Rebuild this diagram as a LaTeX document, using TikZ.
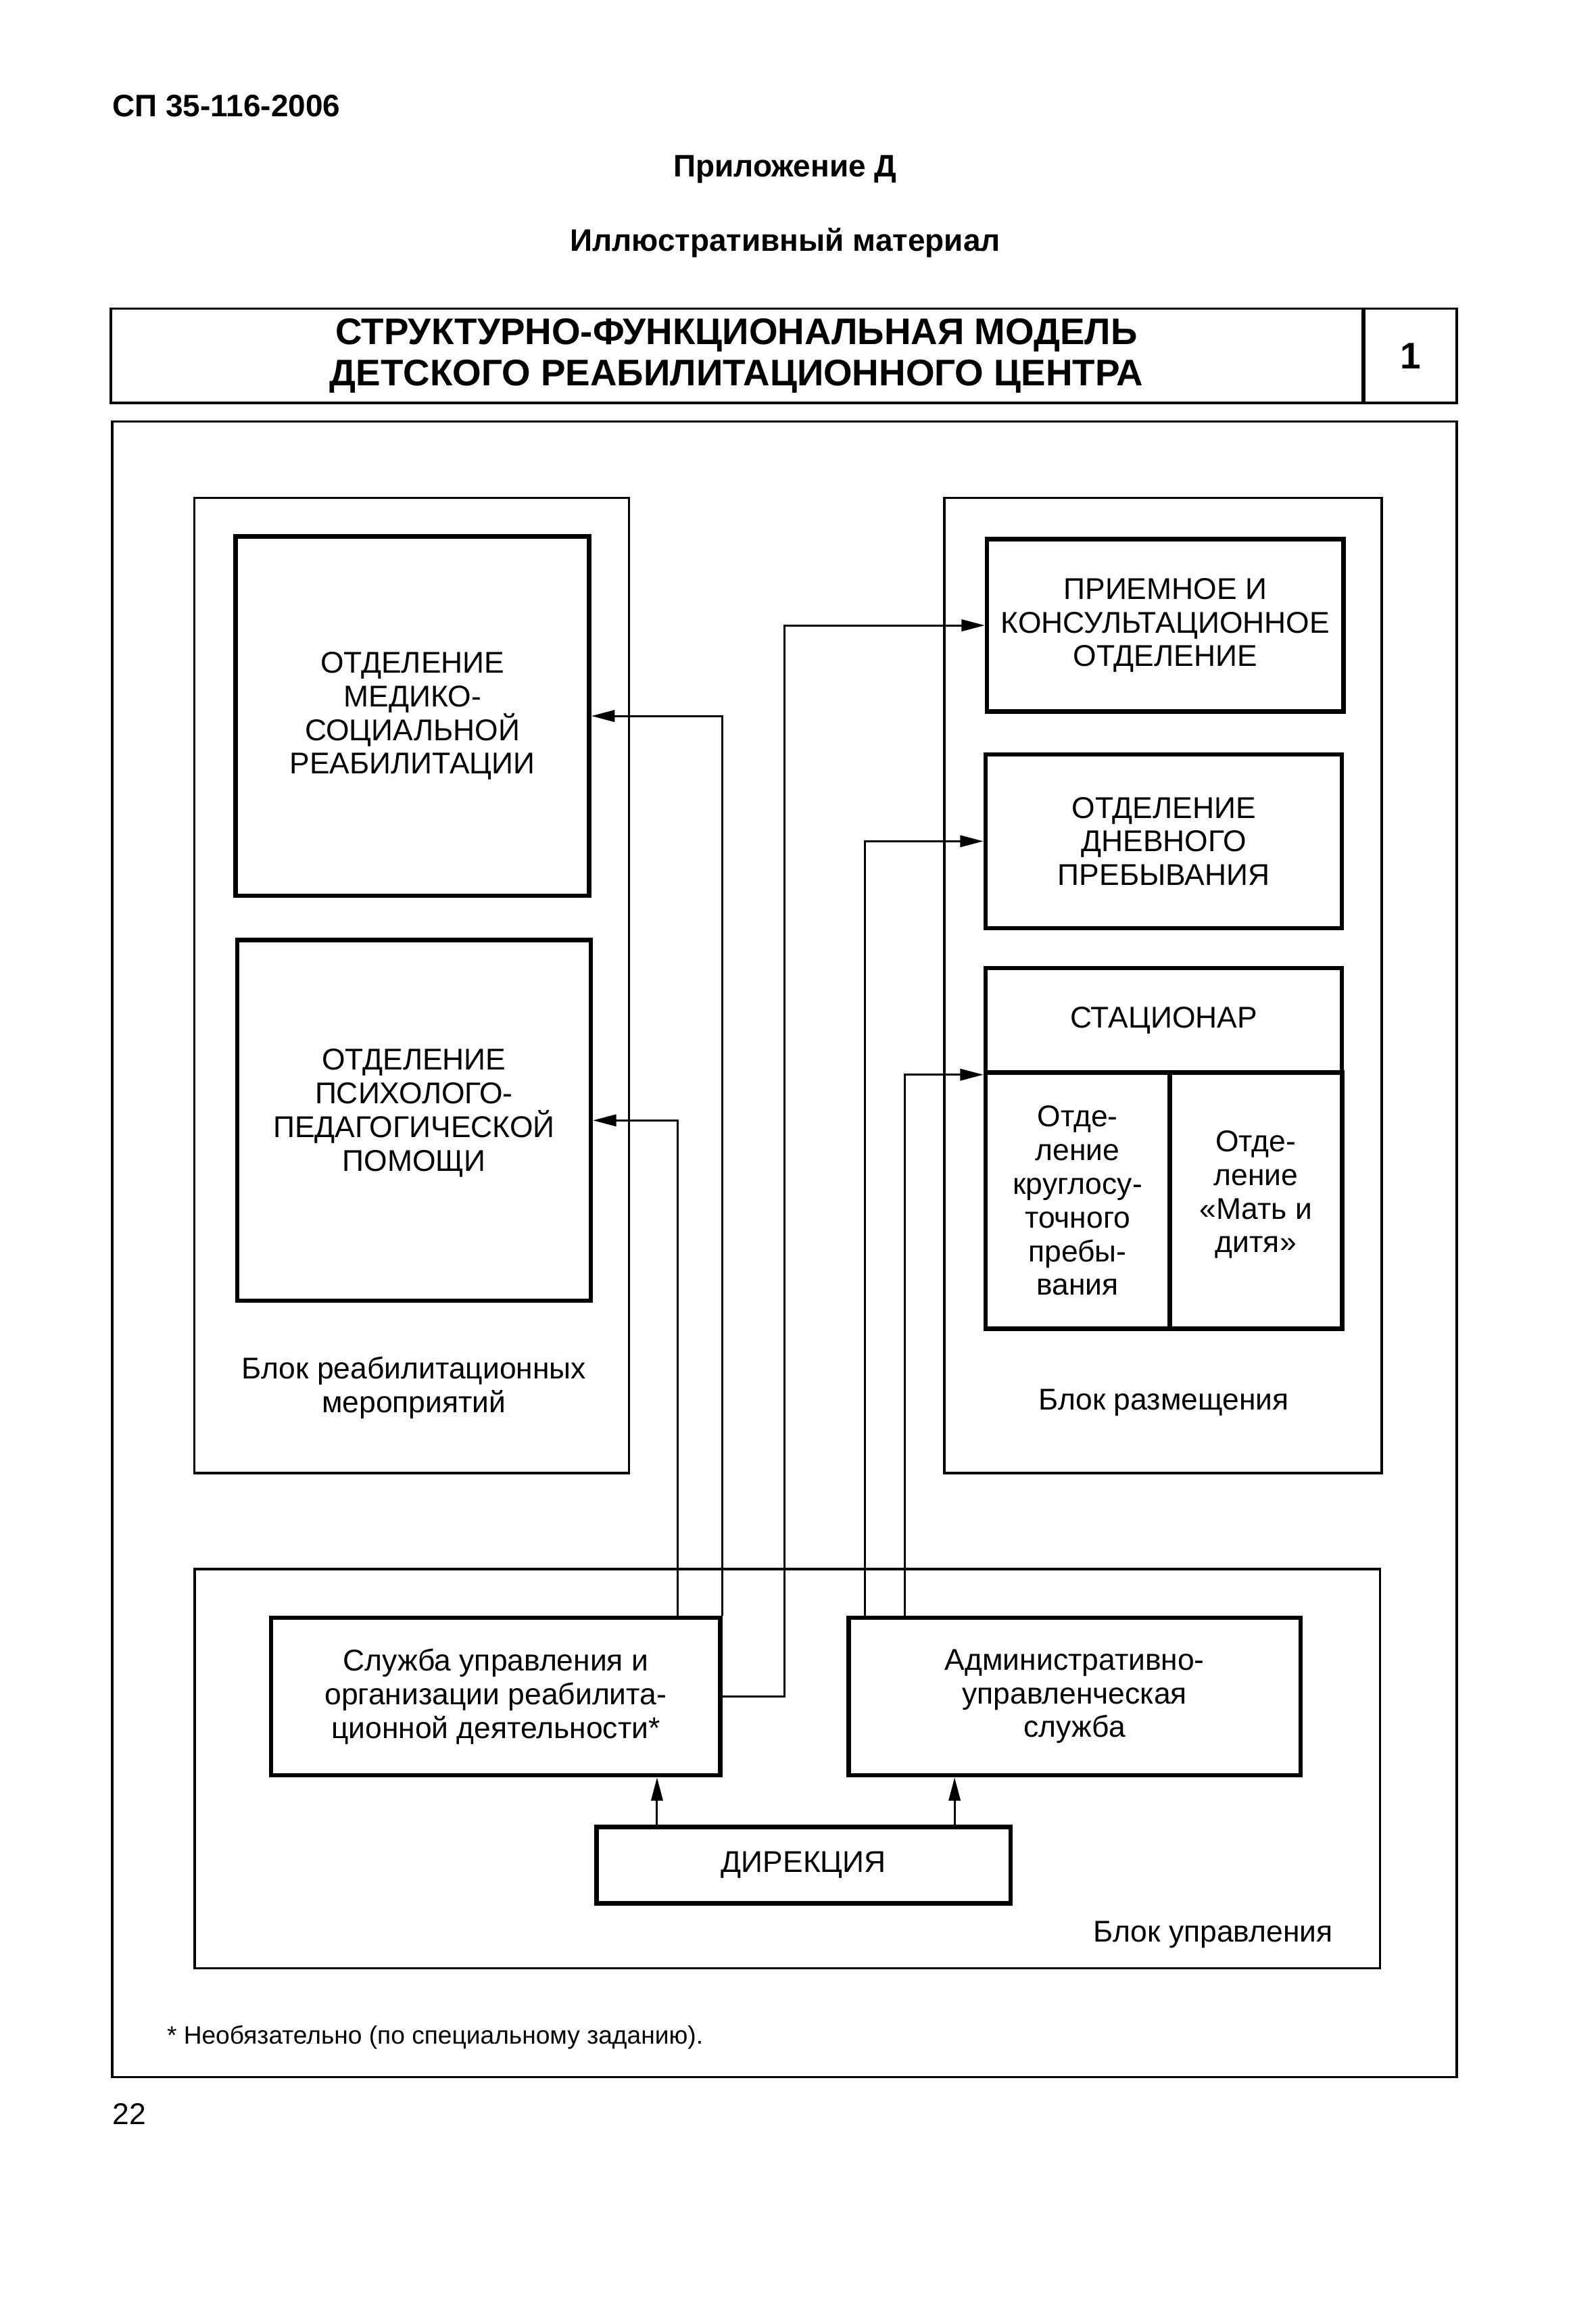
\documentclass[tikz,border=0pt]{standalone}
\usepackage{fontspec}
\setmainfont{Liberation Sans}
\usetikzlibrary{arrows.meta,positioning,calc}

\begin{document}
\begin{tikzpicture}[
  x=0.02cm, y=-0.02cm,
  head/.style={font=\fontsize{12}{14}\selectfont\bfseries},
  frame/.style={rectangle, draw, line width=1pt},
  block/.style={rectangle, draw, line width=0.9pt},
  dept/.style={
    rectangle, draw, line width=1.7pt, inner sep=2pt, align=center,
    font=\fontsize{11.6}{13}\selectfont
  },
  label/.style={align=center, font=\fontsize{11.6}{13}\selectfont},
  arr/.style={-{Triangle[length=9pt,width=4.5pt]}, line width=0.8pt},
]
  \useasboundingbox (0,0) rectangle (1083,1568);

  % Page header
  \node[head, anchor=west, inner sep=0pt] (code) at (76,72) {СП 35-116-2006};
  \node[head] (app) at (533,115) {Приложение Д};
  \node[head] (ill) at (533,165) {Иллюстративный материал};

  % Title strip
  \node[frame, minimum width=17cm, minimum height=1.28cm, align=center,
        font=\fontsize{14.3}{16}\selectfont\bfseries] (title) at (500,241.5)
        {СТРУКТУРНО-ФУНКЦИОНАЛЬНАЯ МОДЕЛЬ\\ДЕТСКОГО РЕАБИЛИТАЦИОННОГО ЦЕНТРА};
  \node[frame, minimum width=1.26cm, minimum height=1.28cm,
        font=\fontsize{14.3}{16}\selectfont\bfseries] (num) at (957.5,241.5) {1};

  % Outer frame and blocks
  \node[frame, minimum width=18.26cm, minimum height=22.48cm] (main) at (532.5,848) {};
  \node[block, minimum width=5.9cm, minimum height=13.24cm] (rehab) at (279.5,669) {};
  \node[block, minimum width=5.94cm, minimum height=13.24cm] (place) at (789.5,669) {};
  \node[block, minimum width=16.1cm, minimum height=5.42cm] (manage) at (534.5,1200.5) {};

  % Block of rehabilitation
  \node[dept, minimum width=4.8cm, minimum height=4.88cm] (msr) at (280,486)
        {ОТДЕЛЕНИЕ\\МЕДИКО-\\СОЦИАЛЬНОЙ\\РЕАБИЛИТАЦИИ};
  \node[dept, minimum width=4.8cm, minimum height=4.9cm] (ppp) at (281,760.5)
        {ОТДЕЛЕНИЕ\\ПСИХОЛОГО-\\ПЕДАГОГИЧЕСКОЙ\\ПОМОЩИ\\[-5pt]};
  \node[label] (rehablbl) at (281,942) {Блок реабилитационных\\мероприятий};

  % Block of placement
  \node[dept, minimum width=4.84cm, minimum height=2.34cm] (pko) at (791,424.5)
        {ПРИЕМНОЕ И\\КОНСУЛЬТАЦИОННОЕ\\ОТДЕЛЕНИЕ};
  \node[dept, minimum width=4.84cm, minimum height=2.36cm] (odp) at (790,571)
        {ОТДЕЛЕНИЕ\\ДНЕВНОГО\\ПРЕБЫВАНИЯ};
  \node[dept, minimum width=4.84cm, minimum height=1.42cm] (stac) at (790,692.5)
        {СТАЦИОНАР};
  \node[dept, minimum width=2.5cm, minimum height=3.48cm] (stacl) at (731.5,815)
        {Отде-\\ление\\круглосу-\\точного\\пребы-\\вания};
  \node[dept, minimum width=2.34cm, minimum height=3.48cm] (stacr) at (852.5,815)
        {Отде-\\ление\\«Мать и\\дитя»\\[-6pt]};
  \node[label] (placelbl) at (790,952) {Блок размещения};

  % Block of management
  \node[dept, minimum width=6.1cm, minimum height=2.14cm] (su) at (336.5,1151.5)
        {Служба управления и\\организации реабилита-\\ционной деятельности*};
  \node[dept, minimum width=6.14cm, minimum height=2.14cm] (aus) at (729.5,1151.5)
        {Административно-\\управленческая\\служба};
  \node[dept, minimum width=5.62cm, minimum height=1.04cm] (dir) at (545.5,1266)
        {ДИРЕКЦИЯ};
  \node[label, anchor=east, inner sep=0pt] (managelbl) at (905,1313) {Блок управления};

  % Footnote and page number
  \node[anchor=west, inner sep=0pt, font=\fontsize{9.7}{12}\selectfont] (note) at (113,1383)
        {* Необязательно (по специальному заданию).};
  \node[anchor=west, inner sep=0pt, font=\fontsize{11.6}{13}\selectfont] (page) at (76,1435) {22};

  % Connector columns
  \coordinate (c1) at (460,0);
  \coordinate (c3) at (587,0);
  \coordinate (c4) at (614,0);
  \coordinate (c5) at (446,0);
  \coordinate (c6) at (648,0);

  % Arrows
  \draw[arr] (su.north east) |- (msr.east);
  \draw[arr] (su.north -| c1) |- (ppp.east);
  \draw[arr] (su.east) -- ++(42,0) |- (pko.west);
  \draw[arr] (aus.north -| c3) |- (odp.west);
  \draw[arr] (aus.north -| c4) |- (stac.south west);
  \draw[arr] (dir.north -| c5) -- (su.south -| c5);
  \draw[arr] (dir.north -| c6) -- (aus.south -| c6);
\end{tikzpicture}
\end{document}
